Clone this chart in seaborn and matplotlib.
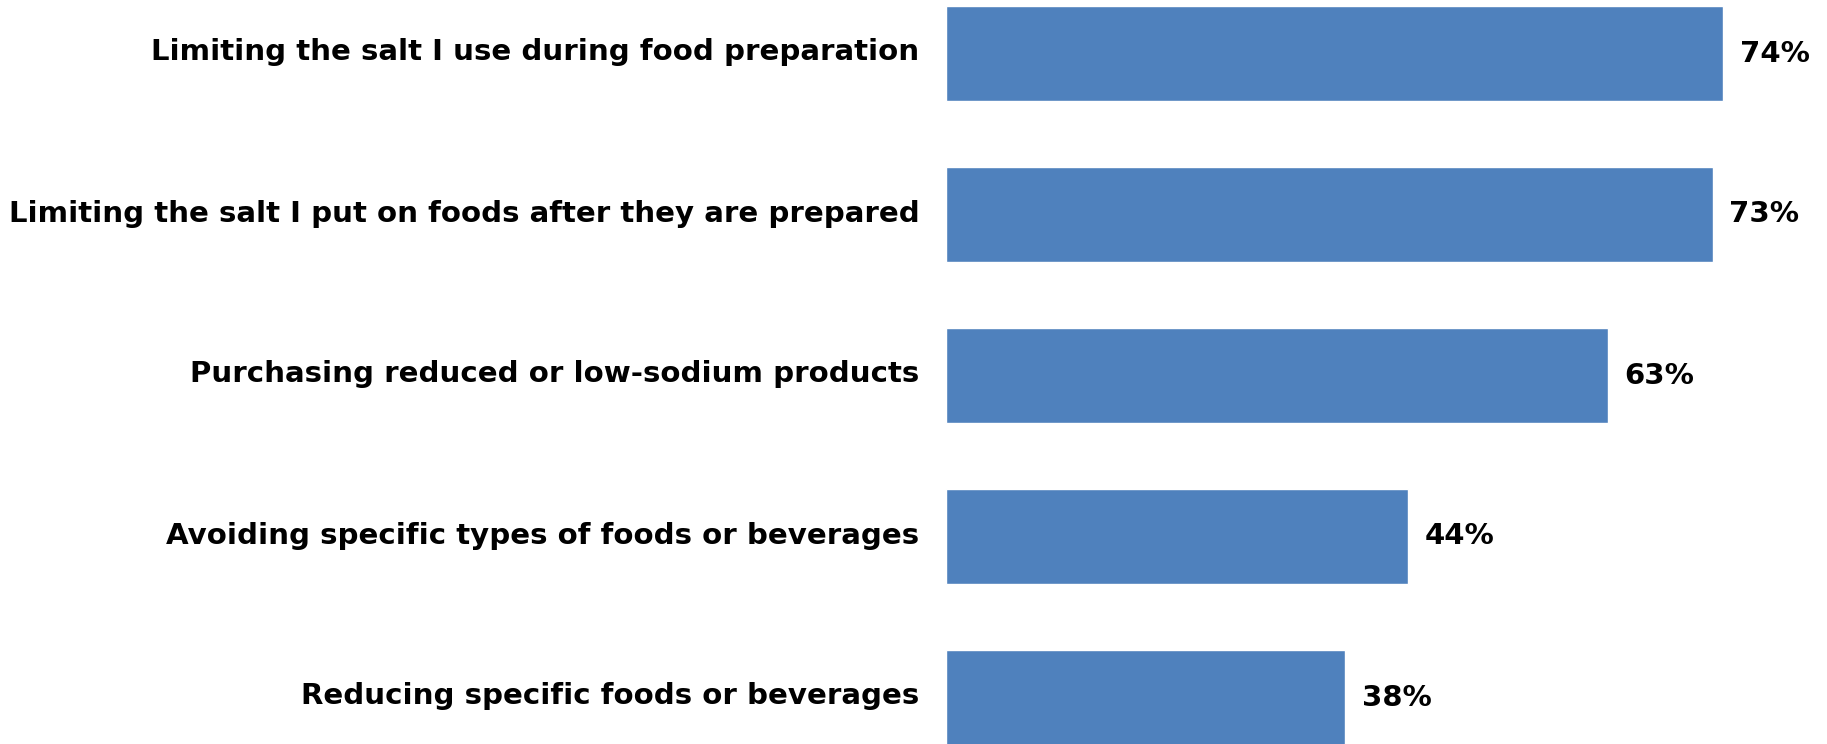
import matplotlib
matplotlib.use("Agg")
import matplotlib.pyplot as plt
import matplotlib.transforms as mtransforms
import seaborn as sns
import pandas as pd

categories = [
    "Limiting the salt I use during food preparation",
    "Limiting the salt I put on foods after they are prepared",
    "Purchasing reduced or low-sodium products",
    "Avoiding specific types of foods or beverages",
    "Reducing specific foods or beverages",
]
values = [74, 73, 63, 44, 38]

df = pd.DataFrame({"action": categories, "pct": values})

sns.set_theme(style="white")
plt.rcParams["font.family"] = ["DejaVu Sans"]

W, H, DPI = 1827, 744, 100
fig = plt.figure(figsize=(W / DPI, H / DPI), dpi=DPI)

# axes start where the bars begin; category labels sit in the left margin
x0_px = 946
ax = fig.add_axes([x0_px / W, 0.0, 1 - x0_px / W, 1.0])

sns.barplot(data=df, y="action", x="pct", orient="h", color="#4F81BD",
            saturation=1, width=0.593, ax=ax)

px_per_unit = 10.5
ax.set_xlim(0, (W - x0_px) / px_per_unit)
spacing = 161.0
c0 = 53.5
ax.set_ylim((H - c0) / spacing, -c0 / spacing)

for c in ax.containers:
    ax.bar_label(c, labels=[f"{v}%" for v in values], padding=12,
                 fontsize=21, fontweight="heavy", color="black")

ax.set_xlabel("")
ax.set_ylabel("")
ax.set_xticks([])
ax.tick_params(axis="y", length=0, pad=19)
lift = mtransforms.ScaledTranslation(0, 4 / DPI, fig.dpi_scale_trans)
for lbl in ax.get_yticklabels():
    lbl.set_fontsize(21.1)
    lbl.set_fontweight("bold")
    lbl.set_color("black")
    lbl.set_transform(lbl.get_transform() + lift)
for s in ax.spines.values():
    s.set_visible(False)

fig.savefig("out.png", dpi=DPI)
